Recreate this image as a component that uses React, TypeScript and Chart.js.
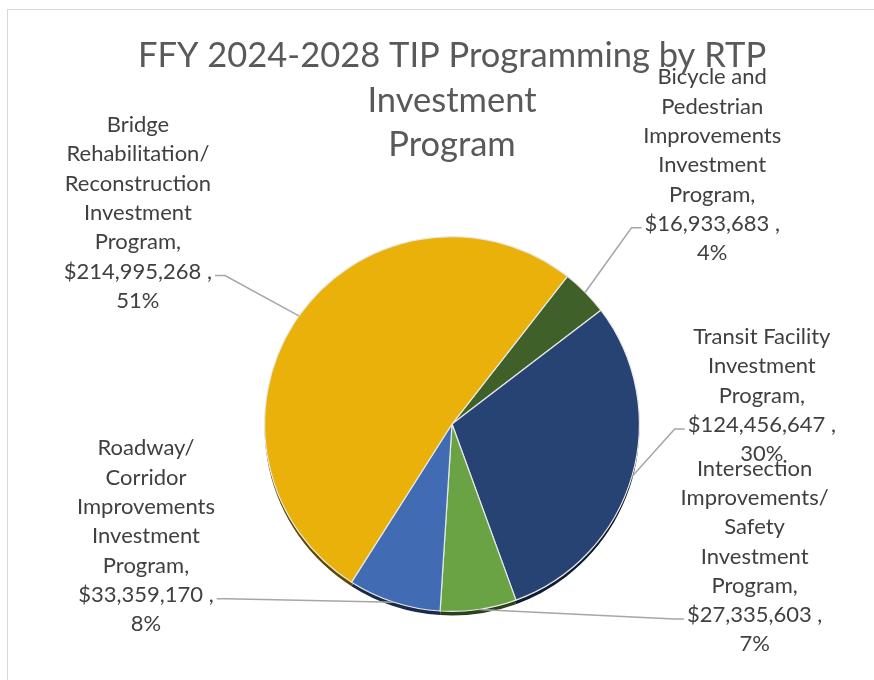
import React, { useEffect, useRef } from "react";
import { Chart, registerables } from "chart.js";
Chart.register(...registerables);

const titleLines = ["FFY 2024-2028 TIP Programming by RTP", "Investment", "Program"];
const categories = [
  "Bicycle and Pedestrian Improvements Investment Program",
  "Transit Facility Investment Program",
  "Intersection Improvements/ Safety Investment Program",
  "Roadway/ Corridor Improvements Investment Program",
  "Bridge Rehabilitation/ Reconstruction Investment Program",
];
const values = [16933683, 124456647, 27335603, 33359170, 214995268];
const percentLabels = ["4%", "30%", "7%", "8%", "51%"];
const colors = ["#3F6129", "#264373", "#6AA343", "#416BB3", "#E9B109"];

// label block offsets from the slice's outer mid-point (style only)
const labelOffsets = [
  [127, -127],
  [130, -81],
  [276, -53],
  [-248, -66],
  [-161, -103],
];

const FONT = "Lato, 'Open Sans', sans-serif";
const LABEL_SIZE = 22;
const LINE_H = 29.3;

function wrap(ctx: CanvasRenderingContext2D, text: string, maxW: number) {
  const words = text.split(" ");
  const lines: string[] = [];
  let cur = "";
  for (const w of words) {
    const t = cur ? cur + " " + w : w;
    if (cur && ctx.measureText(t).width > maxW) {
      lines.push(cur);
      cur = w;
    } else cur = t;
  }
  if (cur) lines.push(cur);
  return lines;
}

function darken(hex: string, f: number) {
  const n = parseInt(hex.slice(1), 16);
  const r = Math.round(((n >> 16) & 255) * f);
  const g = Math.round(((n >> 8) & 255) * f);
  const b = Math.round((n & 255) * f);
  return `rgb(${r},${g},${b})`;
}

const depthPlugin = {
  id: "depth",
  beforeDatasetsDraw(chart: any) {
    const ctx = chart.ctx;
    const meta = chart.getDatasetMeta(0);
    ctx.save();
    meta.data.forEach((arc: any, i: number) => {
      const { x, y, startAngle, endAngle, outerRadius } = arc.getProps(
        ["x", "y", "startAngle", "endAngle", "outerRadius"],
        true
      );
      ctx.beginPath();
      ctx.moveTo(x, y + 4);
      ctx.arc(x, y + 4, outerRadius, startAngle, endAngle);
      ctx.closePath();
      ctx.fillStyle = darken(colors[i], 0.4);
      ctx.fill();
    });
    ctx.restore();
  },
};

const labelPlugin = {
  id: "outLabels",
  afterDatasetsDraw(chart: any) {
    const ctx = chart.ctx;
    const meta = chart.getDatasetMeta(0);
    ctx.save();
    ctx.font = `${LABEL_SIZE}px ${FONT}`;
    ctx.textAlign = "center";
    ctx.textBaseline = "middle";
    meta.data.forEach((arc: any, i: number) => {
      const { x, y, startAngle, endAngle, outerRadius } = arc.getProps(
        ["x", "y", "startAngle", "endAngle", "outerRadius"],
        true
      );
      const mid = (startAngle + endAngle) / 2;
      const ax = x + Math.cos(mid) * outerRadius;
      const ay = y + Math.sin(mid) * outerRadius;
      const lines = wrap(ctx, categories[i] + ",", 155);
      lines.push("$" + values[i].toLocaleString("en-US") + " ,");
      lines.push(percentLabels[i]);
      const [dx, dy] = labelOffsets[i];
      const cx = ax + dx;
      const cy = ay + dy;
      const n = lines.length;
      const top = cy - ((n - 1) / 2) * LINE_H;
      ctx.fillStyle = "#404040";
      lines.forEach((l, k) => ctx.fillText(l, cx, top + k * LINE_H));
      const vi = n - 2;
      const vy = top + vi * LINE_H + 4;
      const w = ctx.measureText(lines[vi]).width;
      const side = dx < 0 ? 1 : -1;
      const ex = cx + side * (w / 2 + 3);
      const elx = ex + side * 10;
      ctx.beginPath();
      ctx.moveTo(ex, vy);
      ctx.lineTo(elx, vy);
      ctx.lineTo(ax, ay);
      ctx.strokeStyle = "#A6A6A6";
      ctx.lineWidth = 1.5;
      ctx.stroke();
    });
    ctx.restore();
  },
};

export default function App() {
  const ref = useRef<HTMLCanvasElement>(null);
  useEffect(() => {
    const chart = new Chart(ref.current!, {
      type: "pie",
      data: {
        labels: categories,
        datasets: [
          {
            data: values,
            backgroundColor: colors,
            borderColor: "#E8E8E8",
            borderWidth: 1.2,
          },
        ],
      },
      options: {
        responsive: false,
        animation: false,
        rotation: 38,
        layout: { padding: { top: 24, bottom: 78, left: 60, right: 60 } },
        plugins: {
          legend: { display: false },
          tooltip: { enabled: false },
          title: {
            display: true,
            text: titleLines,
            color: "#595959",
            font: { family: FONT, size: 34.5, weight: "normal", lineHeight: 1.29 },
            padding: { top: 0, bottom: 68.5 },
          },
        },
      },
      plugins: [depthPlugin, labelPlugin],
    });
    return () => chart.destroy();
  }, []);
  return (
    <div
      style={{
        position: "fixed",
        left: 0,
        top: 0,
        width: 874,
        height: 680,
        overflow: "hidden",
        background: "#fff",
      }}
    >
      <div
        style={{
          position: "absolute",
          left: 7,
          top: 9,
          width: 900,
          height: 700,
          border: "1px solid #D9D9D9",
        }}
      >
        <canvas
          ref={ref}
          width={888}
          height={680}
          style={{ position: "absolute", left: 0, top: 0, width: 888, height: 680 }}
        />
      </div>
    </div>
  );
}
